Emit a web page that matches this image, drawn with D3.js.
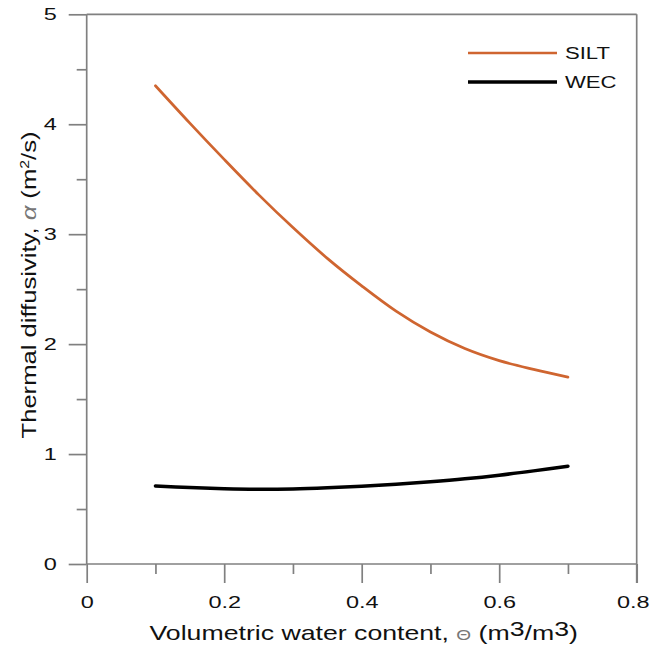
<!DOCTYPE html>
<html>
<head>
<meta charset="utf-8">
<script src="https://cdn.jsdelivr.net/npm/d3@7"></script>
<style>
  body { margin: 0; background: #fff; }
  text { font-family: "Liberation Sans", Arial, sans-serif; fill: #111; }
</style>
</head>
<body>
<script>
// water content (m3/m3)
var theta = [0.10, 0.15, 0.20, 0.25, 0.30, 0.35, 0.40, 0.45, 0.50, 0.55, 0.60, 0.65, 0.70];
var silt = [4.35, 4.01, 3.68, 3.36, 3.06, 2.78, 2.53, 2.30, 2.11, 1.96, 1.85, 1.77, 1.70];
var wec  = [0.71, 0.695, 0.685, 0.68, 0.683, 0.693, 0.707, 0.725, 0.748, 0.775, 0.808, 0.847, 0.89];
var xTicks = [0, 0.2, 0.4, 0.6, 0.8];
var yTicks = [0, 1, 2, 3, 4, 5];
var seriesNames = ["SILT", "WEC"];

var W = 652, H = 648;
var margin = {top: 14.3, right: 15.3, bottom: 84, left: 86.7},
    width = W - margin.left - margin.right,
    height = H - margin.top - margin.bottom;

// the lettering in the figure is wide, stretch it along the baseline
var stretch = 1.38;

var svg = d3.select("body").append("svg")
    .attr("width", W)
    .attr("height", H);

var g = svg.append("g")
    .attr("transform", "translate(" + margin.left + "," + margin.top + ")");

var x = d3.scaleLinear().domain([0, 0.8]).range([0, width]);
var y = d3.scaleLinear().domain([0, 5]).range([height, 0]);

var axisColor = "#808080";

// minor ticks
var xAxisMinor = d3.axisBottom(x).tickValues(d3.range(0.1, 0.8, 0.2)).tickSize(10).tickFormat("");
var yAxisMinor = d3.axisLeft(y).tickValues(d3.range(0.5, 5, 1)).tickSize(10).tickFormat("");
g.append("g").attr("transform", "translate(0," + height + ")").call(xAxisMinor);
g.append("g").call(yAxisMinor);

var xAxis = d3.axisBottom(x).tickValues(xTicks).tickSize(19).tickPadding(13)
    .tickFormat(function(d) { return d === 0 ? "0" : d3.format(".1f")(d); });
var yAxis = d3.axisLeft(y).tickValues(yTicks).tickSize(18).tickPadding(12).tickFormat(d3.format("d"));

var gx = g.append("g").attr("transform", "translate(0," + height + ")").call(xAxis);
var gy = g.append("g").call(yAxis);

// frame top and right
g.append("line").attr("x1", 0).attr("x2", width).attr("y1", 0).attr("y2", 0);
g.append("line").attr("x1", width).attr("x2", width).attr("y1", 0).attr("y2", height + 19);

g.selectAll(".domain").remove();
g.append("line").attr("x1", 0).attr("x2", width).attr("y1", height).attr("y2", height);
g.append("line").attr("x1", 0).attr("x2", 0).attr("y1", 0).attr("y2", height);

g.selectAll("line").attr("stroke", axisColor).attr("stroke-width", 1.7);
g.selectAll(".tick text")
    .style("font-size", "17px")
    .style("font-family", "'Liberation Sans', Arial, sans-serif")
    .attr("fill", "#111")
    .attr("transform", "scale(" + stretch + ",1)");
gy.selectAll(".tick text").attr("x", -30 / stretch);
// last label sits against the page edge
gx.selectAll(".tick text").filter(function(d) { return d === 0.8; }).attr("x", -4 / stretch);

// curves
var line = d3.line()
    .curve(d3.curveCatmullRom)
    .x(function(d) { return x(d[0]); })
    .y(function(d) { return y(d[1]); });

var series = [
  {name: seriesNames[0], values: d3.zip(theta, silt), color: "#CF6530", w: 2.7},
  {name: seriesNames[1], values: d3.zip(theta, wec), color: "#000", w: 3.5}
];

g.selectAll(".curve").data(series).enter().append("path")
    .attr("class", "curve")
    .attr("fill", "none")
    .attr("stroke", function(d) { return d.color; })
    .attr("stroke-width", function(d) { return d.w; })
    .attr("stroke-linecap", "round")
    .attr("d", function(d) { return line(d.values); });

// legend
var leg = svg.append("g").attr("transform", "translate(468,53)");
var li = leg.selectAll("g").data(series).enter().append("g")
    .attr("transform", function(d, i) { return "translate(0," + (i * 29) + ")"; });
li.append("line").attr("x1", 0).attr("x2", 89).attr("y1", 0).attr("y2", 0)
    .attr("stroke", function(d) { return d.color; })
    .attr("stroke-width", function(d) { return d.w; });
li.append("text")
    .attr("transform", "translate(97,6) scale(1.3,1)")
    .style("font-size", "17px")
    .text(function(d) { return d.name; });

// axis titles
var xt = svg.append("text")
    .attr("transform", "translate(" + (margin.left + width / 2 + 2) + ",640) scale(1.27,1)")
    .attr("text-anchor", "middle")
    .style("font-size", "21px");
xt.append("tspan").text("Volumetric water content, ");
xt.append("tspan").text("\u0398").style("font-size", "15px").attr("fill", "#777");
xt.append("tspan").text(" (m");
xt.append("tspan").text("3").attr("dy", -4);
xt.append("tspan").text("/m").attr("dy", 4);
xt.append("tspan").text("3").attr("dy", -4);
xt.append("tspan").text(")").attr("dy", 4);

var yt = svg.append("text")
    .attr("transform", "translate(36," + 285 + ") rotate(-90) scale(1.22,1)")
    .attr("text-anchor", "middle")
    .style("font-size", "21px");
yt.append("tspan").text("Thermal diffusivity, ");
yt.append("tspan").text("\u03B1").style("font-style", "italic").attr("fill", "#777");
yt.append("tspan").text(" (m");
yt.append("tspan").text("2").style("font-size", "13px").attr("dy", -7);
yt.append("tspan").text("/s)").attr("dy", 7);
</script>
</body>
</html>
